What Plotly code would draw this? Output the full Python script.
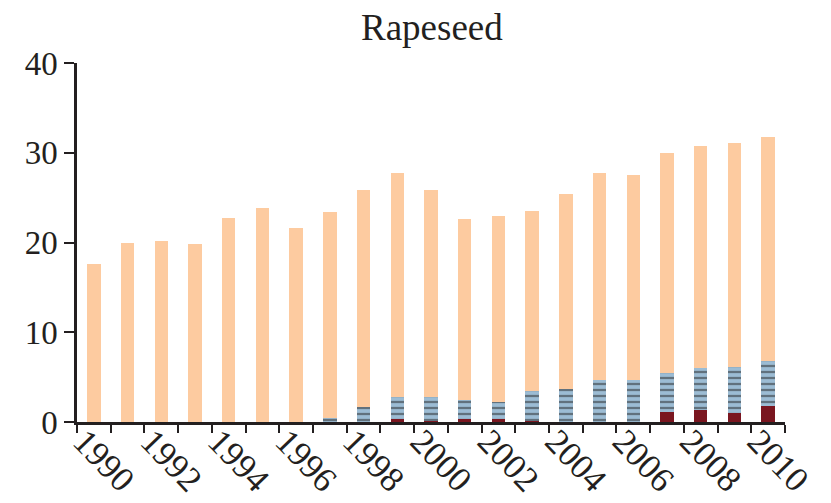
import plotly.graph_objects as go

years = list(range(1990, 2011))
tick_years = list(range(1990, 2011, 2))

# bottom segment (dark red)
red_vals = [0, 0, 0, 0, 0, 0, 0, 0, 0, 0.3, 0.1, 0.3, 0.3, 0.1, 0.05, 0.05, 0.05,
            1.15, 1.35, 0.95, 1.8]
# middle segment (blue, striped)
blue_vals = [0, 0, 0, 0, 0, 0, 0, 0.4, 1.7, 2.5, 2.7, 2.1, 1.9, 3.3, 3.65, 4.65, 4.65,
             4.35, 4.65, 5.15, 4.95]
# top segment (peach)
peach_vals = [17.6, 20.0, 20.2, 19.8, 22.7, 23.8, 21.6, 23.0, 24.1, 24.9, 23.0, 20.2,
              20.7, 20.1, 21.7, 23.0, 22.8, 24.5, 24.7, 25.0, 24.95]

FONT = "Liberation Serif"

fig = go.Figure()
fig.add_trace(go.Bar(x=years, y=red_vals, marker=dict(color="#7A1620", line=dict(width=0)),
                     name="red"))
fig.add_trace(go.Bar(x=years, y=blue_vals,
                     marker=dict(color="#9CBCD4", line=dict(width=0),
                                 pattern=dict(shape="-", fgcolor="#262626", bgcolor="#9CBCD4",
                                              size=6, solidity=0.38)),
                     name="blue"))
fig.add_trace(go.Bar(x=years, y=peach_vals, marker=dict(color="#FDCBA0", line=dict(width=0)),
                     name="peach"))

fig.update_layout(
    barmode="stack",
    bargap=0.6,
    width=823, height=495,
    margin=dict(l=69, r=46, t=55, b=81, autoexpand=False),
    paper_bgcolor="white", plot_bgcolor="white",
    showlegend=False,
    title=dict(text="Rapeseed", x=0.515, xanchor="center", y=0.962, yanchor="middle",
               font=dict(family=FONT, size=37, color="#231f20")),
    font=dict(family=FONT, color="#231f20"),
)
fig.update_xaxes(
    range=[1989.5, 2010.5],
    automargin=False,
    tickmode="array", tickvals=tick_years, ticktext=[str(y) for y in tick_years],
    ticks="", tickangle=46, ticklabelshift=-10, ticklabelstandoff=-18,
    tickfont=dict(family=FONT, size=35, color="#231f20"),
    showline=True, linecolor="#231f20", linewidth=2.5,
    showgrid=False, zeroline=False,
    minor=dict(tickmode="array", tickvals=[y - 0.5 for y in years] + [2010.5],
               ticks="outside", ticklen=8, tickwidth=2, tickcolor="#231f20", showgrid=False),
)
fig.update_yaxes(
    range=[0, 40],
    automargin=False,
    tickmode="array", tickvals=[0, 10, 20, 30, 40],
    ticks="outside", ticklen=10, tickwidth=2, tickcolor="#231f20",
    tickfont=dict(family=FONT, size=33, color="#231f20"),
    showline=True, linecolor="#231f20", linewidth=2.5,
    showgrid=False, zeroline=False,
)

fig.write_html("out.html")
